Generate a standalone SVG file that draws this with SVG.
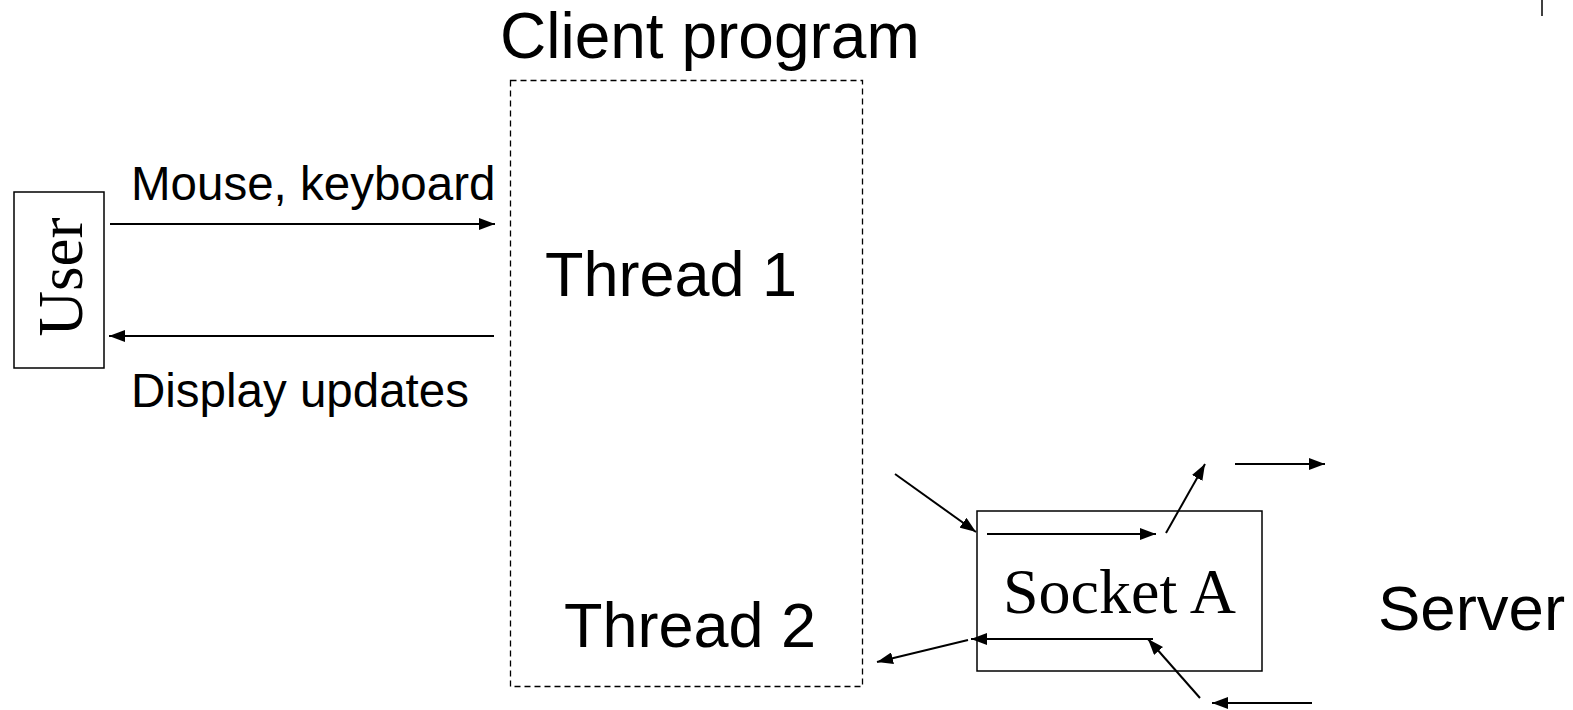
<svg xmlns="http://www.w3.org/2000/svg" width="1573" height="710" viewBox="0 0 1573 710">
<defs>
<style>
.sans{font-family:"Liberation Sans",Arial,sans-serif;fill:#000}
.serif{font-family:"Liberation Serif","Times New Roman",serif;fill:#000}
.box{fill:none;stroke:#000;stroke-width:1.5}
.dash{fill:none;stroke:#000;stroke-width:1.3;stroke-dasharray:6,4}
.arr{fill:none;stroke:#000;stroke-width:2;marker-end:url(#ah)}
</style>
<marker id="ah" viewBox="0 0 16 12" refX="16" refY="6" markerWidth="16" markerHeight="12" markerUnits="userSpaceOnUse" orient="auto">
<path d="M0,0 L16,6 L0,12 z" fill="#000"/>
</marker>
</defs>
<rect width="1573" height="710" fill="#fff"/>
<g id="client">
<rect class="dash" x="510.5" y="80.5" width="352" height="606"/>
<text class="sans" x="500" y="58" font-size="64">Client program</text>
</g>
<g id="thread1"><text class="sans" x="545" y="296" font-size="63">Thread 1</text></g>
<g id="thread2"><text class="sans" x="564" y="647" font-size="63">Thread 2</text></g>
<g id="user">
<rect class="box" x="14" y="192" width="90" height="176"/>
<text class="serif" transform="translate(82,277) rotate(-90)" text-anchor="middle" font-size="63">User</text>
</g>
<g id="socketA">
<rect class="box" x="977" y="511" width="285" height="160"/>
<text class="serif" x="1003" y="613" font-size="64">Socket A</text>
</g>
<g id="server"><text class="sans" x="1378" y="630" font-size="63.5">Server</text></g>
<g id="labels">
<text class="sans" x="131" y="200" font-size="47.5">Mouse, keyboard</text>
<text class="sans" x="131" y="407" font-size="47.5">Display updates</text>
</g>
<g id="connectors">
<line class="arr" x1="110" y1="224" x2="495" y2="224"/>
<line class="arr" x1="494" y1="336" x2="109" y2="336"/>
<line class="arr" x1="895" y1="474" x2="976" y2="532"/>
<line class="arr" x1="987" y1="534" x2="1156" y2="534"/>
<line class="arr" x1="1166" y1="533" x2="1205" y2="464"/>
<line class="arr" x1="1235" y1="464" x2="1325" y2="464"/>
<line class="arr" x1="1153" y1="639" x2="971" y2="639"/>
<line class="arr" x1="968" y1="640" x2="877" y2="662"/>
<line class="arr" x1="1200" y1="698" x2="1148" y2="639"/>
<line class="arr" x1="1312" y1="703" x2="1212" y2="703"/>
<line x1="1542" y1="0" x2="1542" y2="16" stroke="#000" stroke-width="1.5"/>
</g>
</svg>
